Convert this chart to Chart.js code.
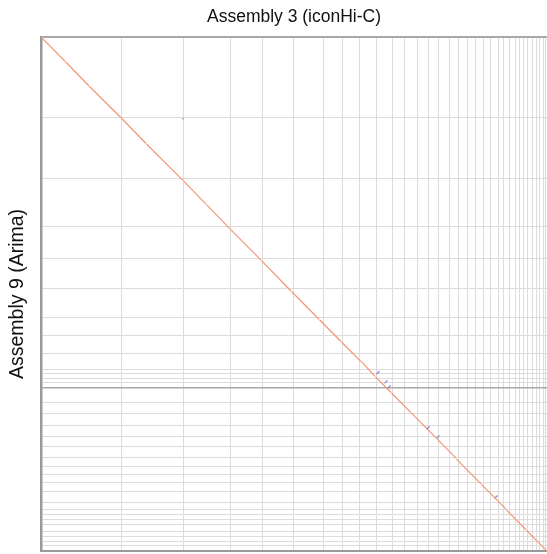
<!DOCTYPE html>
<html>
<head>
<meta charset="utf-8">
<script src="https://cdn.jsdelivr.net/npm/chart.js@4/dist/chart.umd.min.js"></script>
<style>
html,body{margin:0;padding:0;background:#fff;}
#wrap{width:547px;height:554px;position:relative;}
</style>
</head>
<body>
<div id="wrap"><canvas id="c"></canvas></div>
<script>
// Sequence (scaffold) lengths in Mb
const refLengths = [160,124,94,64,62,60,38,34,34,32,24,26,22,20,22,18,18,16,16,14,16,10,12,12,8,8,8,10,8,6,8,4,4];
const qryLengths = [160,120,95,63,61,57,35,35,32,8,10,8,10,30,22,24,22,20,20,18,16,16,18,22,14,10,10,10,14,10,10,8,10];

// Forward alignments: [xStart, xEnd, yStart, yEnd] (Mb)
const fwdX1 = [0,   49,  97, 161, 211, 285, 331, 379, 441, 501, 557, 601, 641, 669, 701, 741, 791, 831, 881, 931, 971];
const fwdX2 = [48,  96, 160, 210, 284, 330, 378, 440, 500, 556, 600, 640, 668, 700, 740, 790, 830, 880, 930, 970, 1012];
const fwdY1 = [0,   49,  98, 161, 212, 285, 332, 381, 443, 504, 560, 604, 643, 673, 705, 745, 795, 836, 886, 937, 977];
const fwdY2 = [48,  97, 160, 211, 284, 331, 380, 442, 503, 559, 603, 643, 672, 704, 744, 794, 834, 885, 935, 976, 1018];

// Reverse (inverted) alignments
const revX1 = [283, 671, 687, 693, 771, 791, 907];
const revX2 = [285, 677, 693, 699, 777, 797, 913];
const revY1 = [163, 668, 686, 696, 777, 795, 914];
const revY2 = [161, 662, 680, 690, 771, 789, 908];

const xTitle = 'Assembly 3 (iconHi-C)';
const yTitle = 'Assembly 9 (Arima)';

function cumulative(arr){ const out=[0]; let s=0; for(const v of arr){ s+=v; out.push(s);} return out; }
const xBounds = cumulative(refLengths);
const yBounds = cumulative(qryLengths);
const xMax = xBounds[xBounds.length-1];
const yMax = yBounds[yBounds.length-1];

const datasets = [];
for(let i=0;i<fwdX1.length;i++){
  datasets.push({data:[{x:fwdX1[i],y:fwdY1[i]},{x:fwdX2[i],y:fwdY2[i]}],
    borderColor:'rgb(242,150,118)', borderWidth:1.2, showLine:true, pointRadius:0});
}
for(let i=0;i<revX1.length;i++){
  datasets.push({data:[{x:revX1[i],y:revY1[i]},{x:revX2[i],y:revY2[i]}],
    borderColor:'rgb(135,135,210)', borderWidth:1.3, showLine:true, pointRadius:0});
}

const fontFam = 'Liberation Sans, Arial, sans-serif';

new Chart(document.getElementById('c'), {
  type:'scatter',
  data:{datasets},
  options:{
    responsive:true, maintainAspectRatio:false, animation:false,
    layout:{padding:{left:6,right:0,top:0,bottom:3}},
    plugins:{ legend:{display:false}, tooltip:{enabled:false} },
    scales:{
      x:{type:'linear', min:0, max:xMax,
        afterBuildTicks:(s)=>{ s.ticks = xBounds.map(v=>({value:v})); },
        ticks:{display:false},
        grid:{drawTicks:false, color:'#dcdcdc', lineWidth:1},
        border:{display:true, color:'#999', width:2}
      },
      xTop:{type:'linear', position:'top', axis:'x', min:0, max:xMax,
        ticks:{display:false},
        grid:{display:false, drawTicks:false},
        border:{display:false},
        title:{display:true, text:xTitle, color:'#111',
          font:{family:fontFam, size:17.5, weight:'normal'},
          padding:{top:7,bottom:9}}
      },
      y:{type:'linear', min:0, max:yMax, reverse:true,
        afterBuildTicks:(s)=>{ s.ticks = yBounds.map(v=>({value:v})); },
        ticks:{display:false},
        grid:{drawTicks:false,
          color:(ctx)=> ctx.index===0 ? '#a8a8a8' : (ctx.index===13 ? '#a8a8a8' : '#dcdcdc'),
          lineWidth:(ctx)=> ctx.index===0 ? 2 : (ctx.index===13 ? 1.5 : 1)},
        border:{display:true, color:'#999', width:2.5},
        title:{display:true, text:yTitle, color:'#111',
          font:{family:fontFam, size:19.5, weight:'normal'},
          padding:{top:0,bottom:11.6}}
      }
    }
  }
});
</script>
</body>
</html>
